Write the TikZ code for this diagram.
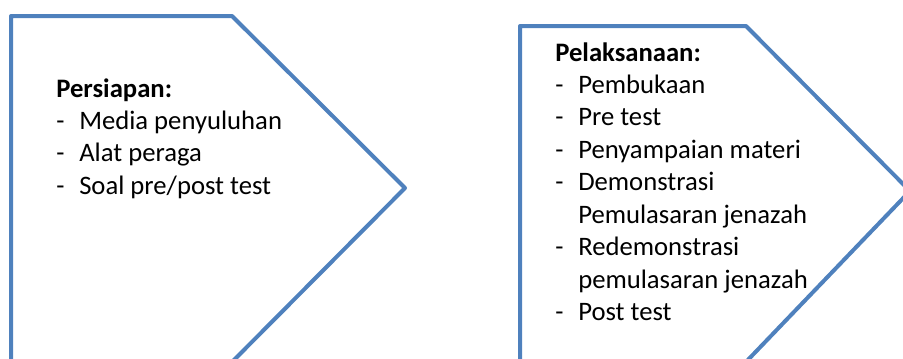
\documentclass[tikz,border=0pt]{standalone}
\usepackage{fontspec}
\setmainfont{Carlito}
\usetikzlibrary{calc}
\definecolor{shapeblue}{HTML}{4F81BD}
\newcommand{\itemdash}{\makebox[17.25pt][l]{-}}
\newcommand{\itemgap}{\hspace*{17.25pt}}

\begin{document}
\begin{tikzpicture}[x=0.75pt, y=-0.75pt, line cap=round, line join=round,
	chevron/.style={draw=shapeblue, line width=3pt},
	steplist/.style={anchor=base west, inner sep=0pt, font=\fontsize{20}{24.35}\selectfont}]
	
	\useasboundingbox (0,0) rectangle (903,358);
	\clip (0,0) rectangle (903,358);
	
	% ===== Left: preparation =====
	\begin{scope}
		% arrow outline
		\coordinate (P1) at (11,364);
		\coordinate (P2) at (11,16);
		\coordinate (P3) at (232,16);
		\coordinate (P4) at (405,188);
		\coordinate (P5) at (230,364);
		\draw[chevron] (P1) -- (P2) -- (P3) -- (P4) -- (P5);
		\node[steplist] (persiapan) at (56,97) {\begin{tabular}[t]{@{}l@{}}
				\textbf{Persiapan:}\\
				\itemdash Media penyuluhan\\
				\itemdash Alat peraga\\
				\itemdash Soal pre/post test
		\end{tabular}};
	\end{scope}
	
	% ===== Right: implementation =====
	\begin{scope}
		% arrow outline
		\coordinate (L1) at (520,364);
		\coordinate (L2) at (520,26);
		\coordinate (L3) at (746,26);
		\coordinate (L4) at (910,191);
		\coordinate (L5) at (744,364);
		\draw[chevron] (L1) -- (L2) -- (L3) -- (L4) -- (L5);
		\node[steplist] (pelaksanaan) at (555,61) {\begin{tabular}[t]{@{}l@{}}
				\textbf{Pelaksanaan:}\\
				\itemdash Pembukaan\\
				\itemdash Pre test\\
				\itemdash Penyampaian materi\\
				\itemdash Demonstrasi\\
				\itemgap Pemulasaran jenazah\\
				\itemdash Redemonstrasi\\
				\itemgap pemulasaran jenazah\\
				\itemdash Post test
		\end{tabular}};
	\end{scope}
	
\end{tikzpicture}
\end{document}
